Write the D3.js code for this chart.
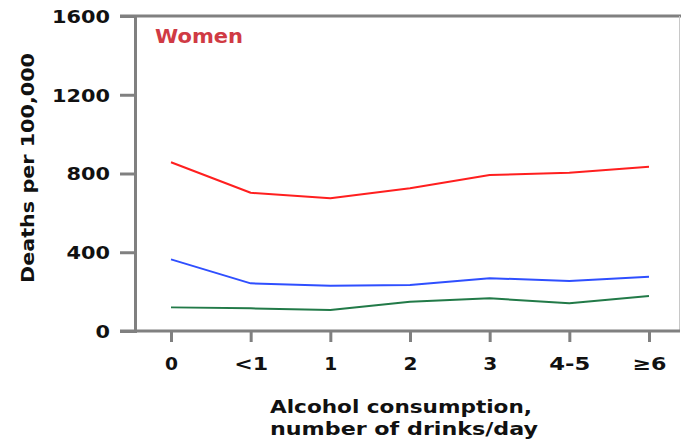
<!DOCTYPE html>
<html>
<head>
<meta charset="utf-8">
<script src="https://cdn.jsdelivr.net/npm/d3@7/dist/d3.min.js"></script>
<style>
  html, body { margin: 0; padding: 0; background: #fff; }
  svg text { font-family: "DejaVu Sans", Verdana, sans-serif; font-weight: bold; }
</style>
</head>
<body>
<svg id="chart" width="681" height="441"></svg>
<script>
// Drinking categories (drinks per day)
const categories = ["0", "<1", "1", "2", "3", "4-5", "≥6"];
// Deaths per 100,000 among women, by cause group
const redSeries   = [857, 702, 674, 725, 792, 804, 834];
const blueSeries  = [364, 242, 230, 234, 268, 254, 276];
const greenSeries = [120, 115, 107, 149, 166, 141, 178];
const yTicks = [0, 400, 800, 1200, 1600];

const series = [
  { values: redSeries,   color: "#ff1f1f" },
  { values: blueSeries,  color: "#2f4fff" },
  { values: greenSeries, color: "#227a48" }
];

const svg = d3.select("#chart");
const axisColor = "#808080";
const textColor = "#111";

const x = d3.scalePoint().domain(categories).range([171, 649]);
const y = d3.scaleLinear().domain([0, 1600]).range([331, 16]);

// Frame: top border, right border
svg.append("line").attr("x1", 120).attr("x2", 681).attr("y1", 16).attr("y2", 16)
  .attr("stroke", axisColor).attr("stroke-width", 3);
svg.append("line").attr("x1", 679.5).attr("x2", 679.5).attr("y1", 16).attr("y2", 331)
  .attr("stroke", "#c8c8c8").attr("stroke-width", 1);

// Y axis
const yAxis = d3.axisLeft(y).tickValues(yTicks).tickFormat(d3.format("d"))
  .tickSize(15).tickPadding(10);
const gy = svg.append("g").attr("transform", "translate(135,0)").call(yAxis);
gy.select(".domain").attr("stroke", axisColor).attr("stroke-width", 3);
gy.selectAll(".tick line").attr("stroke", axisColor).attr("stroke-width", 3);
gy.selectAll(".tick text")
  .attr("fill", textColor).attr("font-size", 18)
  .attr("dy", "0.36em")
  .attr("textLength", d => String(d).length * 14.5)
  .attr("lengthAdjust", "spacingAndGlyphs");

// X axis
const xAxis = d3.axisBottom(x).tickSize(11).tickPadding(15).tickSizeOuter(0);
const gx = svg.append("g").attr("transform", "translate(0,331)").call(xAxis);
gx.select(".domain").remove();
svg.append("line").attr("x1", 120).attr("x2", 680).attr("y1", 331).attr("y2", 331)
  .attr("stroke", axisColor).attr("stroke-width", 3);
gx.selectAll(".tick line").attr("stroke", axisColor).attr("stroke-width", 3);
const xLabelWidths = { "0": 13, "<1": 34, "1": 13, "2": 14, "3": 14, "4-5": 41, "≥6": 34 };
gx.selectAll(".tick text")
  .attr("fill", textColor).attr("font-size", 18)
  .attr("textLength", d => xLabelWidths[d])
  .attr("lengthAdjust", "spacingAndGlyphs");

// Series lines
const line = d3.line()
  .x((d, i) => x(categories[i]))
  .y(d => y(d));
svg.selectAll("path.series")
  .data(series)
  .join("path")
  .attr("class", "series")
  .attr("d", d => line(d.values))
  .attr("fill", "none")
  .attr("stroke", d => d.color)
  .attr("stroke-width", 2)
  .attr("stroke-linejoin", "round");

// Panel label
svg.append("text")
  .attr("x", 155).attr("y", 43)
  .attr("fill", "#d03a44").attr("font-size", 19)
  .attr("textLength", 88).attr("lengthAdjust", "spacingAndGlyphs")
  .text("Women");

// Y axis title
svg.append("text")
  .attr("transform", "translate(34,168) rotate(-90)")
  .attr("text-anchor", "middle")
  .attr("fill", textColor).attr("font-size", 18)
  .attr("textLength", 230).attr("lengthAdjust", "spacingAndGlyphs")
  .text("Deaths per 100,000");

// X axis title
svg.append("text")
  .attr("x", 401).attr("y", 413)
  .attr("text-anchor", "middle")
  .attr("fill", textColor).attr("font-size", 18)
  .attr("textLength", 262).attr("lengthAdjust", "spacingAndGlyphs")
  .text("Alcohol consumption,");
svg.append("text")
  .attr("x", 404).attr("y", 435)
  .attr("text-anchor", "middle")
  .attr("fill", textColor).attr("font-size", 18)
  .attr("textLength", 268).attr("lengthAdjust", "spacingAndGlyphs")
  .text("number of drinks/day");
</script>
</body>
</html>
